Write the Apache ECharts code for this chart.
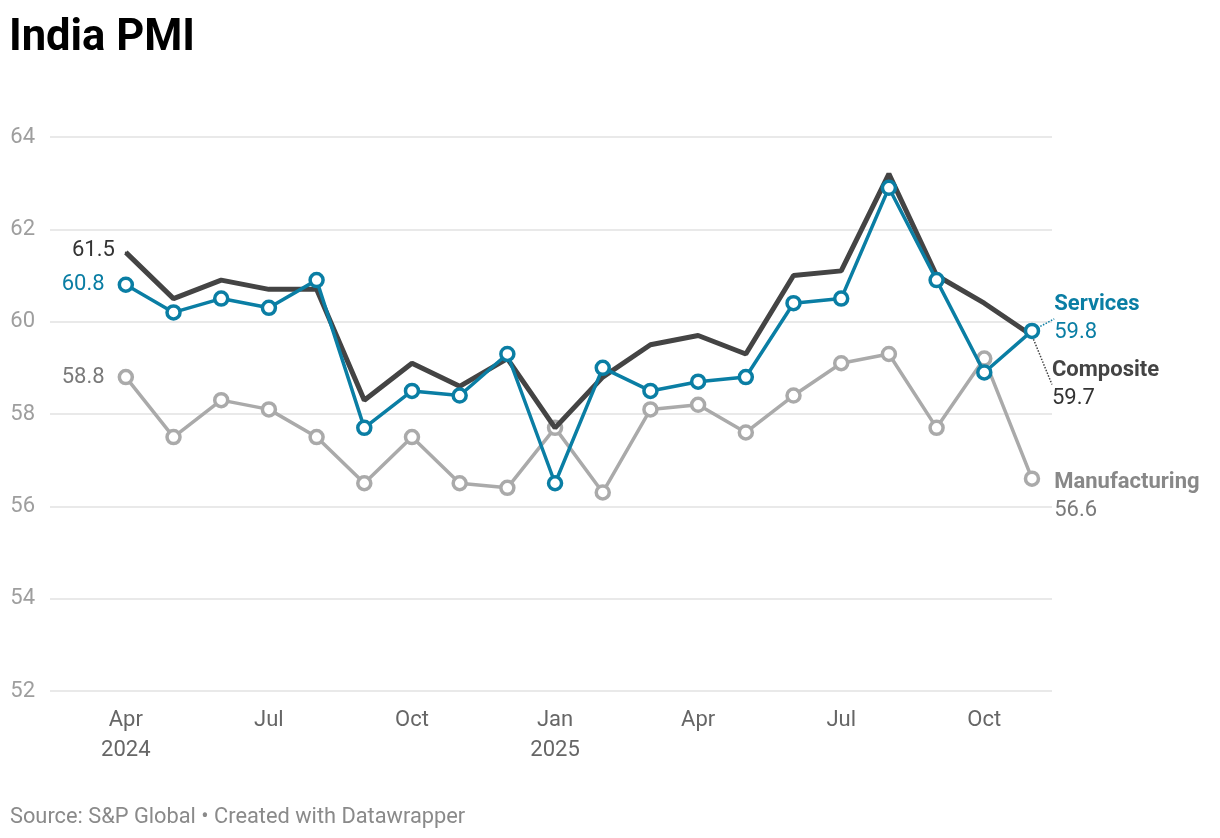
<!DOCTYPE html>
<html>
<head>
<meta charset="utf-8">
<title>India PMI</title>
<script src="https://cdn.jsdelivr.net/npm/echarts@6/dist/echarts.min.js"></script>
<style>
html,body{margin:0;padding:0;background:#fff;}
#chart{width:1220px;height:838px;}
</style>
</head>
<body>
<div id="chart"></div>
<script>
// Months: Apr 2024 .. Nov 2025
const months = ['Apr 2024','May 2024','Jun 2024','Jul 2024','Aug 2024','Sep 2024','Oct 2024','Nov 2024','Dec 2024',
  'Jan 2025','Feb 2025','Mar 2025','Apr 2025','May 2025','Jun 2025','Jul 2025','Aug 2025','Sep 2025','Oct 2025','Nov 2025'];
const services      = [60.8,60.2,60.5,60.3,60.9,57.7,58.5,58.4,59.3,56.5,59.0,58.5,58.7,58.8,60.4,60.5,62.9,60.9,58.9,59.8];
const composite     = [61.5,60.5,60.9,60.7,60.7,58.3,59.1,58.6,59.2,57.7,58.8,59.5,59.7,59.3,61.0,61.1,63.2,61.0,60.4,59.7];
const manufacturing = [58.8,57.5,58.3,58.1,57.5,56.5,57.5,56.5,56.4,57.7,56.3,58.1,58.2,57.6,58.4,59.1,59.3,57.7,59.2,56.6];
const tickIndex  = [0,3,6,9,12,15,18];
const tickLabels = ['Apr\n2024','Jul','Oct','Jan\n2025','Apr','Jul','Oct'];
const yTicks = [52,54,56,58,60,62,64];

const TEAL = '#0a7ea4', DARK = '#444444', GREY = '#aaaaaa', GREYTXT = '#7a7a7a';
const FONT = 'Roboto';
const last = months.length - 1;

function buildData(values, firstLabel, lastLabel, lastLine) {
  return values.map((v, i) => {
    const item = { value: [i, v] };
    if (i === 0) { item.label = firstLabel; item.labelLine = { show: false }; }
    else if (i === last) { item.label = lastLabel; item.labelLine = lastLine; }
    return item;
  });
}
function endRich(color, nameColor) {
  return {
    n: { fontFamily: FONT, fontSize: 22, fontWeight: 'bold', color: nameColor, lineHeight: 28 },
    v: { fontFamily: FONT, fontSize: 22, color: color, lineHeight: 28 }
  };
}

const chart = echarts.init(document.getElementById('chart'));
chart.setOption({
  animation: false,
  backgroundColor: '#fff',
  textStyle: { fontFamily: FONT },
  title: [
    { text: 'India PMI', left: 9, top: 17, padding: 0,
      textStyle: { fontFamily: FONT, fontSize: 43.5, fontWeight: 'bold', color: '#000' } },
    { text: 'Source: S&P Global • Created with Datawrapper', left: 10, top: 807, padding: 0,
      textStyle: { fontFamily: FONT, fontSize: 21.8, fontWeight: 'normal', color: '#8a8a8a' } }
  ],
  grid: { left: 50, right: 168, top: 137, bottom: 147, containLabel: false },
  xAxis: {
    type: 'value', min: -1.59, max: 19.42,
    axisLine: { show: false }, axisTick: { show: false }, splitLine: { show: false },
    axisLabel: {
      customValues: tickIndex,
      formatter: v => tickLabels[tickIndex.indexOf(v)] || '',
      fontFamily: FONT, fontSize: 22, color: '#666', lineHeight: 30, margin: 14
    }
  },
  yAxis: {
    type: 'value', min: 52, max: 64, interval: 2,
    axisLine: { show: false }, axisTick: { show: false },
    splitLine: { lineStyle: { color: '#e2e2e2', width: 1.5 } },
    axisLabel: { fontFamily: FONT, fontSize: 22, color: '#9e9e9e', margin: 15 }
  },
  series: [
    {
      name: 'Manufacturing', type: 'line', z: 2,
      data: buildData(manufacturing,
        { show: true, position: 'left', distance: 13, formatter: String(manufacturing[0]),
          fontFamily: FONT, fontSize: 22, color: GREYTXT },
        { show: true, position: 'right', distance: 14, formatter: '{n|Manufacturing}\n{v|' + manufacturing[last] + '}',
          rich: endRich(GREYTXT, '#888888') },
        { show: false }),
      lineStyle: { color: GREY, width: 3.5 },
      symbol: 'circle', symbolSize: 13, showSymbol: true,
      itemStyle: { color: '#fff', borderColor: GREY, borderWidth: 3.5 },
      label: { show: false },
      labelLayout: p => p.dataIndex === last ? { dy: 18 } : {}
    },
    {
      name: 'Composite', type: 'line', z: 3,
      data: buildData(composite,
        { show: true, position: 'left', distance: 10, formatter: String(composite[0]),
          fontFamily: FONT, fontSize: 22, color: '#333' },
        { show: true, position: 'right', distance: 19, formatter: '{n|Composite}\n{v|' + composite[last] + '}',
          rich: endRich('#333', DARK) },
        { show: true, lineStyle: { color: DARK, type: 'dotted', width: 1.5 } }),
      lineStyle: { color: DARK, width: 5 },
      symbol: 'circle', symbolSize: 2, showSymbol: true,
      itemStyle: { color: DARK },
      label: { show: false },
      labelLayout: p => p.dataIndex === last ? { dy: 49 } : (p.dataIndex === 0 ? { dy: -2 } : {})
    },
    {
      name: 'Services', type: 'line', z: 4,
      data: buildData(services,
        { show: true, position: 'left', distance: 13, formatter: String(services[0]),
          fontFamily: FONT, fontSize: 22, color: TEAL },
        { show: true, position: 'right', distance: 14, formatter: '{n|Services}\n{v|' + services[last] + '}',
          rich: endRich(TEAL, TEAL) },
        { show: true, lineStyle: { color: TEAL, type: 'dotted', width: 1.5 } }),
      lineStyle: { color: TEAL, width: 3.5 },
      symbol: 'circle', symbolSize: 13, showSymbol: true,
      itemStyle: { color: '#fff', borderColor: TEAL, borderWidth: 3.5 },
      label: { show: false },
      labelLayout: p => p.dataIndex === last ? { dy: -12 } : {}
    }
  ]
});
</script>
</body>
</html>
